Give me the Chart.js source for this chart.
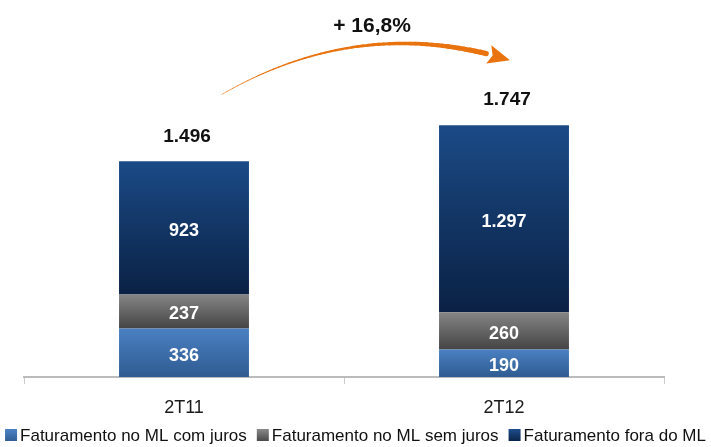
<!DOCTYPE html>
<html>
<head>
<meta charset="utf-8">
<script src="https://cdn.jsdelivr.net/npm/chart.js@4/dist/chart.umd.min.js"></script>
<style>
  html, body { margin: 0; padding: 0; background: #fff; }
  #wrap { width: 711px; height: 447px; }
</style>
</head>
<body>
<div id="wrap"><canvas id="c"></canvas></div>
<script>
// data
const categories = ['2T11', '2T12'];
const comJuros = [336, 190];
const semJuros = [237, 260];
const foraML = [923, 1297];
const totals = ['1.496', '1.747'];
const growthLabel = '+ 16,8%';

const seriesNames = ['Faturamento no ML com juros', 'Faturamento no ML sem juros', 'Faturamento fora do ML'];
const gradStops = [
  ['#4a80c2', '#2f5b91'],
  ['#858585', '#444444'],
  ['#1b4a86', '#0a2144']
];

const FONT = '"Liberation Sans", Arial, Helvetica, sans-serif';

function fmt(v) {
  return v.toLocaleString('de-DE');
}

// gradient per segment, top to bottom
function segFill(dsIndex) {
  return function (ctx) {
    const chart = ctx.chart;
    const y = chart.scales.y;
    if (!y || !chart.chartArea || ctx.type !== 'data') return gradStops[dsIndex][0];
    const i = ctx.dataIndex;
    let base = 0;
    for (let d = 0; d < dsIndex; d++) base += chart.data.datasets[d].data[i];
    const top = y.getPixelForValue(base + chart.data.datasets[dsIndex].data[i]);
    const bot = y.getPixelForValue(base);
    if (!isFinite(top) || !isFinite(bot)) return gradStops[dsIndex][0];
    const g = chart.ctx.createLinearGradient(0, top, 0, bot);
    g.addColorStop(0, gradStops[dsIndex][0]);
    g.addColorStop(1, gradStops[dsIndex][1]);
    return g;
  };
}

// labels inside segments, totals above, growth arrow, legend row
const labelPlugin = {
  id: 'labels',
  afterDatasetsDraw(chart) {
    const ctx = chart.ctx;
    ctx.save();
    ctx.textAlign = 'center';
    ctx.textBaseline = 'middle';
    ctx.font = 'bold 18px ' + FONT;
    ctx.fillStyle = '#ffffff';
    chart.data.datasets.forEach((ds, d) => {
      chart.getDatasetMeta(d).data.forEach((bar, i) => {
        const mid = (bar.y + bar.base) / 2;
        ctx.fillText(fmt(ds.data[i]), bar.x, mid + 3);
      });
    });
    const last = chart.getDatasetMeta(chart.data.datasets.length - 1).data;
    ctx.fillStyle = '#111111';
    ctx.font = 'bold 19px ' + FONT;
    last.forEach((bar, i) => {
      ctx.fillText(totals[i], bar.x + 3, bar.y - 25);
    });

    // arrow between the two totals
    const x0 = last[0].x + 38, y0 = last[0].y - 67;
    const x1 = last[1].x + 6, y1 = last[1].y - 65;
    const cx = (x0 + x1) / 2 - 5, cy = y0 - 80;
    const steps = 50;
    const tEnd = 0.92;
    ctx.strokeStyle = '#e8730f';
    ctx.lineCap = 'round';
    let px = x0, py = y0;
    for (let s = 1; s <= steps; s++) {
      const t = s / steps * tEnd;
      const u = 1 - t;
      const qx = u * u * x0 + 2 * u * t * cx + t * t * x1;
      const qy = u * u * y0 + 2 * u * t * cy + t * t * y1;
      const k = s / steps;
      ctx.lineWidth = 0.6 + 4.6 * Math.pow(k, 1.3);
      ctx.beginPath();
      ctx.moveTo(px, py);
      ctx.lineTo(qx, qy);
      ctx.stroke();
      px = qx; py = qy;
    }
    // arrow head
    const ang = Math.atan2(y1 - py, x1 - px);
    const headLen = 22, half = 9.5;
    const bx = x1 - headLen * Math.cos(ang), by = y1 - headLen * Math.sin(ang);
    ctx.fillStyle = '#e8730f';
    ctx.beginPath();
    ctx.moveTo(x1, y1);
    ctx.lineTo(bx + half * Math.sin(ang), by - half * Math.cos(ang));
    ctx.lineTo(bx + 4 * Math.cos(ang), by + 4 * Math.sin(ang));
    ctx.lineTo(bx - half * Math.sin(ang), by + half * Math.cos(ang));
    ctx.closePath();
    ctx.fill();

    ctx.fillStyle = '#111111';
    ctx.font = 'bold 21px ' + FONT;
    ctx.fillText(growthLabel, (last[0].x + last[1].x) / 2 + 28, 26);

    // legend row along the bottom
    ctx.font = '17px ' + FONT;
    ctx.textAlign = 'left';
    const box = 12, gapText = 3, gapItem = 10;
    const widths = seriesNames.map(n => ctx.measureText(n).width);
    let total = 0;
    widths.forEach((w, i) => { total += box + gapText + w + (i ? gapItem : 0); });
    let lx = (chart.width - total) / 2;
    const ly = 436;
    seriesNames.forEach((n, i) => {
      const g = ctx.createLinearGradient(0, ly - box / 2, 0, ly + box / 2);
      g.addColorStop(0, gradStops[i][0]);
      g.addColorStop(1, gradStops[i][1]);
      ctx.fillStyle = g;
      ctx.fillRect(lx, ly - box / 2 - 1, box, box);
      ctx.fillStyle = '#111111';
      ctx.fillText(n, lx + box + gapText, ly);
      lx += box + gapText + widths[i] + gapItem;
    });
    ctx.restore();
  }
};

const seriesValues = [comJuros, semJuros, foraML];

new Chart(document.getElementById('c'), {
  type: 'bar',
  data: {
    labels: categories,
    datasets: seriesValues.map((vals, d) => ({
      label: seriesNames[d],
      data: vals,
      backgroundColor: segFill(d),
      borderWidth: 0,
      categoryPercentage: 1,
      barPercentage: 0.406
    }))
  },
  options: {
    responsive: true,
    maintainAspectRatio: false,
    animation: false,
    layout: { padding: { left: 24, right: 47, top: 31, bottom: 30 } },
    scales: {
      x: {
        stacked: true,
        afterFit(scale) { scale.height = 40; },
        grid: { display: true, drawOnChartArea: false, drawTicks: true, tickLength: 7, color: '#cccccc', offset: true },
        border: { display: true, color: '#bbbbbb', width: 2 },
        ticks: { color: '#1a1a1a', font: { family: FONT, size: 18 }, padding: 13 }
      },
      y: {
        stacked: true,
        display: false,
        min: 0,
        max: 2400
      }
    },
    plugins: {
      tooltip: { enabled: false },
      legend: { display: false }
    }
  },
  plugins: [labelPlugin]
});
</script>
</body>
</html>
